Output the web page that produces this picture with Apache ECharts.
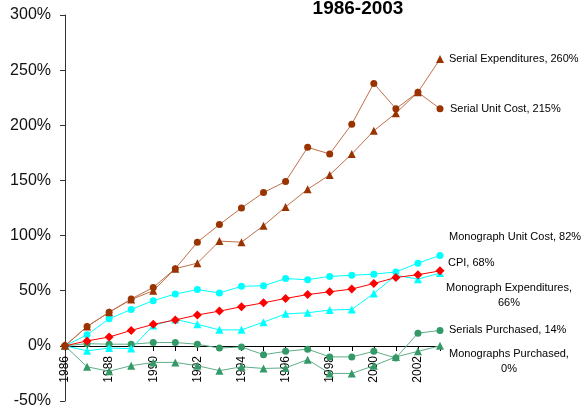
<!DOCTYPE html>
<html>
<head>
<meta charset="utf-8">
<script src="https://cdn.jsdelivr.net/npm/echarts@6/dist/echarts.min.js"></script>
<style>
html,body{margin:0;padding:0;background:#fff;}
#chart{width:585px;height:406px;}
</style>
</head>
<body>
<div id="chart"></div>
<script>
var years = ['1986','1987','1988','1989','1990','1991','1992','1993','1994','1995','1996','1997','1998','1999','2000','2001','2002','2003'];
var serialExpenditures = [0, 17.5, 30.5, 42, 50, 70, 75, 95, 94, 109, 126, 142, 155, 174, 195, 211, 230, 260];
var serialUnitCost = [0, 17.5, 30.5, 42.5, 53, 70, 94, 110, 125, 139, 149, 180, 174, 201, 238, 215, 230, 215];
var monographUnitCost = [0, 10, 24.5, 33, 41, 47, 51, 48, 54, 54.5, 61, 60, 63, 64, 65, 67, 75, 82];
var cpi = [0, 4.5, 8, 14, 19.5, 23.5, 28, 31.5, 35.5, 39, 43, 46.5, 49, 51.5, 56.5, 62, 64.5, 68];
var monographExpenditures = [0, -4.5, -2, -2.5, 18.5, 24, 19.5, 14.5, 14.5, 21.5, 29, 30, 32.5, 33, 47.5, 64, 60.5, 66];
var serialsPurchased = [0, 2, 1.5, 1.5, 3, 3, 1.5, -2, -1, -8, -5, -3, -10, -10, -5, -11, 11.5, 14];
var monographsPurchased = [0, -19, -23, -18, -15, -15, -18, -22.5, -19, -20.5, -20, -12.5, -25, -25, -18, -10, -5, 0];
var endLabels = ['Serial Expenditures, 260%', 'Serial Unit Cost, 215%', 'Monograph Unit Cost, 82%', 'CPI, 68%', 'Monograph Expenditures,\n66%', 'Serials Purchased, 14%', 'Monographs Purchased,\n0%'];
var titleText = '1986-2003';

var FONT = "'Liberation Sans', Arial, sans-serif";

function mk(name, data, symbol, size, mColor, lColor, label, lab) {
  return {
    name: name, type: 'line', data: data,
    xAxisIndex: 0, yAxisIndex: 0,
    symbol: symbol, symbolSize: size,
    itemStyle: { color: mColor },
    lineStyle: { color: lColor, width: 1 },
    emphasis: { disabled: true },
    endLabel: Object.assign({
      show: true, formatter: label, fontSize: 11, color: '#000',
      fontFamily: FONT, lineHeight: 15
    }, lab)
  };
}

var chart = echarts.init(document.getElementById('chart'));
chart.setOption({
  animation: false,
  backgroundColor: '#fff',
  title: {
    text: titleText, left: 353, top: -6, textAlign: 'center',
    textStyle: { fontSize: 19, fontWeight: 'bold', color: '#000', fontFamily: FONT }
  },
  grid: [
    { left: 65, right: 145, top: 15, bottom: 5, containLabel: false, outerBoundsMode: 'none' },
    { left: 65, right: 145, top: 15, bottom: 60, containLabel: false, outerBoundsMode: 'none' }
  ],
  xAxis: [{
    gridIndex: 0,
    type: 'category', data: years, boundaryGap: false,
    axisLine: { onZero: true, lineStyle: { color: '#000', width: 1 } },
    axisTick: { show: false },
    axisLabel: { show: false },
    splitLine: { show: false }
  }, {
    gridIndex: 1,
    type: 'category', data: years, boundaryGap: false,
    axisLine: { show: false },
    axisTick: { show: true, interval: 0, length: 5, lineStyle: { color: '#000' } },
    axisLabel: { interval: 1, rotate: 90, fontSize: 12, color: '#000', margin: 10, fontFamily: FONT },
    splitLine: { show: false }
  }],
  yAxis: [{
    gridIndex: 0,
    type: 'value', min: -50, max: 300, interval: 50,
    axisLine: { show: true, onZero: false, lineStyle: { color: '#333', width: 1 } },
    axisTick: { show: true, length: 5, lineStyle: { color: '#333' } },
    axisLabel: { formatter: '{value}%', fontSize: 16, color: '#111', margin: 14, fontFamily: FONT },
    splitLine: { show: false }
  }, {
    gridIndex: 1, type: 'value', show: false, min: 0, max: 300
  }],
  series: [
    mk('Monographs Purchased', monographsPurchased, 'triangle', 8, '#339966', '#5fae88', endLabels[6], { distance: 0, align: 'center', offset: [69, 16] }),
    mk('Serials Purchased', serialsPurchased, 'circle', 7, '#339966', '#5fae88', endLabels[5], { distance: 9 }),
    mk('Monograph Expenditures', monographExpenditures, 'triangle', 8, '#00ffff', '#00ffff', endLabels[4], { distance: 0, align: 'center', offset: [69, 22] }),
    mk('Monograph Unit Cost', monographUnitCost, 'circle', 7, '#00ffff', '#00ffff', endLabels[2], { distance: 9, offset: [0, -18] }),
    mk('CPI', cpi, 'diamond', 9, '#ff0000', '#ff0000', endLabels[3], { distance: 8, offset: [0, -8] }),
    mk('Serial Expenditures', serialExpenditures, 'triangle', 8, '#993300', '#c0704a', endLabels[0], { distance: 9 }),
    mk('Serial Unit Cost', serialUnitCost, 'circle', 7, '#993300', '#c0704a', endLabels[1], { distance: 10 })
  ]
});
</script>
</body>
</html>
